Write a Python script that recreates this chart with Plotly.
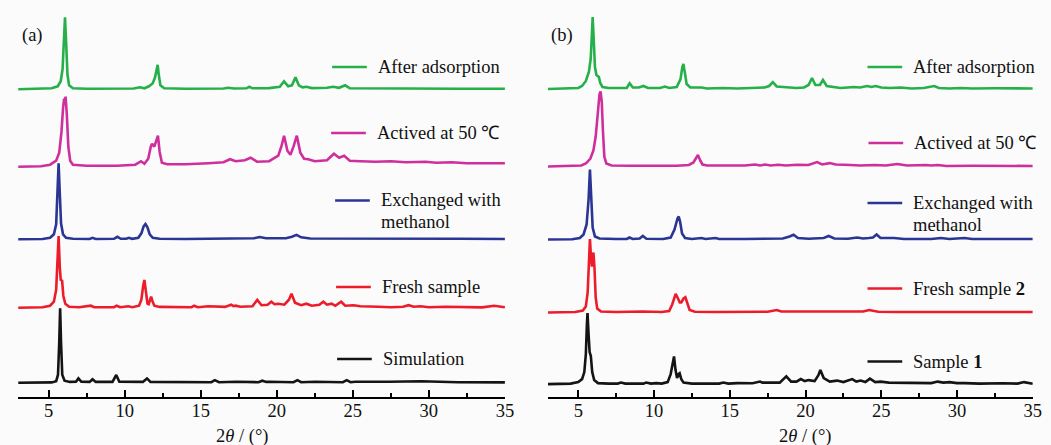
import plotly.graph_objects as go

# ---------------------------------------------------------------
# PXRD patterns, 2θ (°) vs. relative intensity (a.u.), traced as
# (2θ, intensity) vertices.  Panel (a) and panel (b).
# ---------------------------------------------------------------

# panel (a)
a_after = [(3.0, 0), (4.5, 0.3), (5.2, 1), (5.6, 3), (5.8, 8), (5.92, 20), (6.0, 45), (6.08, 72),
           (6.16, 45), (6.24, 15), (6.35, 4), (6.6, 1), (7.5, 0.5), (9.0, 0.3), (10.6, 0.8), (11.0, 2),
           (11.3, 1), (11.6, 3), (11.85, 6), (12.0, 12), (12.1, 22), (12.17, 24.5), (12.25, 14),
           (12.35, 4), (12.6, 1), (14.0, 0.5), (16.5, 0.8), (16.8, 1.5), (17.2, 0.8), (18.0, 1),
           (18.2, 2.5), (18.4, 1), (19.5, 1.2), (20.2, 2.5), (20.48, 8), (20.75, 3), (21.0, 4),
           (21.23, 12), (21.45, 4), (21.7, 2), (21.95, 2.5), (22.3, 1.2), (23.3, 1.5), (23.7, 2.5),
           (24.1, 1.5), (24.5, 4), (24.8, 1), (26.0, 0.8), (28.0, 0.6), (30.0, 0.8), (32.0, 0.5),
           (35.0, 0.5)]

a_activated = [(3.0, 0), (4.5, 0.5), (5.1, 2), (5.5, 6), (5.7, 14), (5.85, 35), (5.95, 58), (6.02, 68),
               (6.07, 66), (6.12, 70), (6.2, 52), (6.3, 20), (6.42, 6), (6.6, 2), (7.5, 1), (9.5, 1),
               (10.7, 2), (11.08, 5.5), (11.3, 3), (11.55, 8), (11.72, 20), (11.8, 23), (11.95, 20),
               (12.1, 28), (12.19, 31), (12.3, 15), (12.45, 4), (12.8, 2.5), (14.0, 2.5), (15.5, 3.5),
               (16.5, 4.5), (16.93, 7.5), (17.3, 5.5), (17.9, 6.5), (18.28, 9), (18.7, 5), (19.5, 5.5),
               (20.1, 11), (20.3, 20), (20.48, 31), (20.7, 16), (20.9, 12), (21.1, 20), (21.32, 31),
               (21.55, 14), (21.8, 8), (22.07, 7.5), (22.5, 5.5), (23.3, 6.5), (23.76, 13), (24.1, 9),
               (24.43, 11), (24.8, 6), (25.5, 5.5), (26.5, 5), (27.5, 5.5), (28.5, 4.5), (29.77, 5),
               (30.5, 4), (31.5, 4.5), (32.5, 3.5), (34.0, 3.5), (35.0, 3.5)]

a_methanol = [(3.0, 0), (4.6, 0.3), (5.1, 1.5), (5.35, 5), (5.5, 15), (5.58, 40), (5.66, 76), (5.74, 45),
              (5.82, 16), (5.95, 5), (6.15, 1.5), (6.6, 0.5), (7.7, 0.3), (7.89, 1.5), (8.1, 0.3),
              (9.3, 0.5), (9.52, 2.5), (9.75, 0.5), (10.1, 0.5), (10.28, 1.5), (10.5, 0.5), (10.9, 1.5),
              (11.1, 6), (11.25, 13), (11.37, 15.3), (11.5, 12), (11.65, 5), (11.85, 1.5), (12.3, 0.5),
              (14.0, 0.3), (16.0, 0.5), (18.5, 1), (18.87, 2.3), (19.3, 1), (20.6, 1), (21.0, 2.5),
              (21.3, 4.4), (21.6, 2), (22.2, 0.8), (24.0, 0.8), (25.5, 0.5), (27.0, 0.8), (28.5, 0.5),
              (30.5, 1.2), (32.0, 0.5), (35.0, 0.3)]

a_fresh = [(3.0, 0), (4.6, 0.5), (5.1, 2), (5.35, 6), (5.5, 18), (5.58, 45), (5.66, 71.7), (5.74, 40),
           (5.8, 28), (5.89, 27), (5.97, 12), (6.1, 4), (6.35, 1), (7.0, 0.5), (7.78, 2), (8.0, 0.5),
           (9.3, 0.5), (9.48, 2), (9.7, 0.5), (10.24, 1.5), (10.5, 0.5), (10.95, 2), (11.1, 8),
           (11.22, 22), (11.3, 27.7), (11.4, 16), (11.5, 4), (11.58, 3.5), (11.68, 9), (11.74, 11),
           (11.82, 7), (11.95, 2), (12.3, 0.8), (14.4, 0.5), (14.57, 2), (14.8, 0.5), (15.5, 1.5),
           (16.6, 0.8), (17.0, 3), (17.15, 1.5), (17.3, 2), (17.6, 1), (18.4, 1.5), (18.72, 7.8),
           (19.0, 2.5), (19.4, 3), (19.64, 6), (19.85, 3.5), (20.09, 4), (20.5, 3), (20.8, 8),
           (20.97, 13.9), (21.2, 5), (21.6, 2.5), (21.95, 4), (22.3, 2), (22.8, 3), (23.06, 6),
           (23.3, 3), (23.6, 4), (23.85, 2), (24.23, 6), (24.5, 2), (25.04, 2.5), (25.5, 1.5),
           (26.03, 1.5), (26.4, 0.8), (26.7, 1), (27.5, 0.5), (28.3, 1), (28.67, 2.5), (29.0, 1),
           (29.45, 1.5), (30.0, 0.5), (31.1, 1), (32.0, 0.5), (33.5, 0.3), (34.29, 2), (35.0, 0.5)]

a_simulated = [(3.0, 0), (5.2, 0.3), (5.5, 1.5), (5.62, 8), (5.7, 40), (5.76, 74.4), (5.82, 40), (5.9, 8),
               (6.05, 2), (6.4, 0.8), (6.8, 1), (6.96, 4.3), (7.15, 1), (7.7, 0.8), (7.89, 3.5), (8.1, 0.8),
               (9.2, 0.8), (9.45, 7.7), (9.65, 1), (10.28, 1), (11.2, 0.8), (11.47, 4.3), (11.7, 0.8),
               (15.7, 0.5), (15.93, 2.5), (16.2, 0.5), (17.34, 1), (18.8, 0.5), (19.05, 2), (19.3, 0.8),
               (19.54, 1), (21.1, 0.5), (21.36, 2.5), (21.6, 0.5), (22.51, 1), (24.35, 0.5), (24.6, 2.5),
               (24.85, 0.5), (25.15, 1), (27.4, 1), (29.5, 1.5), (31.9, 0.5), (35.0, 0.3)]

# panel (b)
b_after = [(3.0, 0), (4.5, 0.5), (5.0, 1), (5.25, 3), (5.5, 8), (5.7, 17), (5.82, 30), (5.9, 55),
           (5.95, 72), (6.02, 50), (6.1, 22), (6.2, 14), (6.3, 12.5), (6.36, 12), (6.45, 6), (6.6, 2),
           (7.0, 1), (8.2, 1), (8.39, 5.7), (8.6, 1.5), (9.0, 1.5), (9.3, 3), (9.6, 1), (10.4, 1),
           (10.72, 2.5), (11.0, 1), (11.5, 2), (11.75, 10), (11.87, 22), (11.94, 25), (12.05, 15),
           (12.15, 5), (12.4, 1.5), (13.14, 1.5), (13.5, 0.5), (14.54, 1), (15.5, 0.5), (16.2, 1),
           (16.8, 1.5), (17.3, 1.5), (17.6, 3), (17.84, 6.8), (18.1, 2.5), (18.77, 1.5), (19.4, 1),
           (19.9, 1.5), (20.2, 4), (20.43, 11), (20.65, 4), (20.95, 4), (21.15, 9), (21.4, 3),
           (21.87, 2), (22.3, 1), (22.8, 1.5), (23.18, 2), (23.6, 1.5), (24.07, 3), (24.35, 2),
           (24.62, 3), (25.0, 1.5), (25.6, 1), (26.29, 1.5), (27.0, 0.5), (27.8, 1), (28.5, 3),
           (28.8, 1), (29.5, 0.5), (30.25, 1), (31.0, 0.5), (32.5, 0.8), (34.0, 0.3), (35.0, 0.5)]

b_activated = [(3.0, 0), (4.5, 0.5), (5.2, 1), (5.5, 3), (5.8, 8), (6.0, 16), (6.15, 30), (6.3, 55),
               (6.4, 72), (6.47, 75), (6.55, 65), (6.63, 35), (6.72, 10), (6.85, 3), (7.2, 1), (8.5, 0.8),
               (10.0, 0.5), (11.5, 0.8), (12.3, 1.5), (12.6, 4), (12.8, 9), (12.9, 11.5), (13.05, 6),
               (13.2, 2), (13.5, 1), (14.5, 0.8), (16.0, 1), (16.67, 2), (17.0, 1), (17.33, 2), (17.7, 1),
               (18.2, 1.8), (18.7, 1), (19.43, 1.8), (20.2, 1.5), (20.76, 4.4), (21.1, 2), (21.58, 3.4),
               (22.0, 2), (22.97, 1.5), (23.6, 1), (24.6, 1.5), (25.3, 1), (26.05, 2.5), (26.7, 1),
               (27.95, 1.5), (28.3, 1), (28.72, 1.5), (29.3, 0.5), (31.0, 0.8), (33.0, 0.3), (35.0, 0.5)]

b_methanol = [(3.0, 0), (4.6, 0.3), (5.1, 1.5), (5.35, 5), (5.55, 15), (5.68, 40), (5.77, 70), (5.86, 40),
              (5.95, 12), (6.1, 3), (6.4, 1), (7.5, 0.5), (8.2, 0.5), (8.38, 2), (8.6, 0.5), (9.05, 1),
              (9.26, 3.5), (9.5, 0.8), (10.6, 0.5), (11.1, 2), (11.35, 10), (11.55, 21), (11.63, 23),
              (11.72, 18), (11.85, 6), (12.05, 1.5), (12.5, 0.5), (13.13, 1.5), (13.4, 0.5), (14.06, 1.5),
              (14.3, 0.5), (16.0, 0.5), (17.5, 0.5), (18.5, 1), (18.95, 3), (19.21, 4.7), (19.5, 1.5),
              (20.2, 0.8), (21.2, 1.5), (21.53, 3.5), (21.9, 1), (22.8, 0.8), (23.41, 2), (23.8, 1),
              (24.18, 1.5), (24.45, 2), (24.69, 5), (24.95, 1.5), (25.85, 1.5), (26.5, 0.5), (28.3, 0.5),
              (28.94, 1.5), (29.5, 0.5), (30.49, 1.5), (31.0, 0.5), (33.0, 0.3), (35.0, 0.5)]

b_fresh2 = [(3.0, 0), (4.8, 0.5), (5.3, 2), (5.5, 6), (5.62, 20), (5.7, 50), (5.77, 73.5), (5.84, 55),
            (5.9, 46), (5.96, 58), (6.0, 60), (6.07, 45), (6.15, 15), (6.25, 4), (6.5, 1), (7.5, 0.5),
            (9.24, 1), (10.5, 0.5), (11.0, 1.5), (11.2, 8), (11.35, 16), (11.43, 18.6), (11.55, 15),
            (11.7, 10), (11.8, 10), (11.95, 14), (12.07, 15.2), (12.2, 9), (12.35, 2.5), (12.7, 0.8),
            (14.0, 0.5), (17.5, 0.8), (17.9, 2), (18.1, 2.5), (18.4, 1), (20.0, 0.8), (21.1, 1),
            (22.0, 0.6), (23.8, 1), (24.2, 2.5), (24.5, 2), (24.8, 0.8), (26.0, 0.5), (28.0, 0.6),
            (30.0, 0.5), (32.0, 0.6), (35.0, 0.5)]

b_sample1 = [(3.0, 0), (4.5, 0.5), (5.0, 2), (5.25, 5), (5.4, 12), (5.5, 30), (5.57, 60), (5.61, 71),
             (5.68, 50), (5.75, 32), (5.83, 28), (5.92, 12), (6.05, 4), (6.3, 1), (7.0, 0.5), (7.6, 0.5),
             (7.82, 1.5), (8.1, 0.5), (9.3, 0.5), (9.48, 1.5), (9.8, 0.5), (10.15, 1), (10.5, 0.5),
             (10.9, 2), (11.1, 10), (11.25, 25), (11.32, 27.7), (11.42, 14), (11.52, 6), (11.62, 10),
             (11.69, 10.8), (11.8, 5), (11.95, 1.5), (12.5, 0.5), (14.3, 0.5), (14.57, 1.5), (14.9, 0.5),
             (15.52, 1), (16.5, 0.8), (17.0, 2.5), (17.15, 1.5), (17.33, 1.5), (18.3, 1.5), (18.73, 7.8),
             (19.05, 2.5), (19.4, 2.5), (19.69, 5), (19.95, 3), (20.2, 4), (20.6, 3), (20.85, 9),
             (20.98, 14.2), (21.2, 6), (21.6, 2.5), (22.08, 3.5), (22.5, 2), (23.08, 5), (23.35, 2.5),
             (23.64, 3.5), (23.95, 2), (24.25, 5.5), (24.6, 2), (24.96, 2.5), (25.5, 1.5), (26.05, 1.5),
             (26.4, 1), (26.7, 1.5), (27.5, 0.8), (28.3, 1), (28.72, 2.5), (29.1, 1.5), (29.5, 2),
             (30.0, 1), (30.5, 1), (31.5, 0.5), (33.0, 0.8), (34.0, 0.5), (34.42, 2), (34.8, 0.5),
             (35.0, 0.3)]

# x-axis ticks
tick_values = [5, 10, 15, 20, 25, 30, 35]
tick_labels = ["5", "10", "15", "20", "25", "30", "35"]

# ---------------------------------------------------------------
# styling / stacking
# ---------------------------------------------------------------
GREEN = "#25b04a"
MAGENTA = "#cf2f9c"
BLUE = "#2b3594"
RED = "#ec1c2a"
BLACK = "#141414"
FONT = "Liberation Serif"
FONT_SIZE = 18.5
BG = "#fbfbfb"
W, H = 1051, 445
BOTTOM = 48            # bottom margin; plot area spans pixel rows 0 .. H - BOTTOM
PLOT_H = H - BOTTOM

# (pattern, colour, vertical offset, legend lines, legend y (px), legend x0 (px))
panel_a = [
    (a_after, GREEN, 307.7, ["After adsorption"], 67, 335),
    (a_activated, MAGENTA, 230.3, ["Actived at 50 ℃"], 133, 334),
    (a_methanol, BLUE, 157.7, ["Exchanged with", "methanol"], 200.5, 338),
    (a_fresh, RED, 89.3, ["Fresh sample"], 287, 339),
    (a_simulated, BLACK, 14.3, ["Simulation"], 359, 340),
]
panel_b = [
    (b_after, GREEN, 308.0, ["After adsorption"], 67, 875),
    (b_activated, MAGENTA, 230.5, ["Actived at 50 ℃"], 143, 876),
    (b_methanol, BLUE, 157.5, ["Exchanged with", "methanol"], 203, 875),
    (b_fresh2, RED, 84.5, ["Fresh sample <b>2</b>"], 288.5, 875),
    (b_sample1, BLACK, 12.9, ["Sample <b>1</b>"], 361.5, 875),
]

fig = go.Figure()
shapes, annotations = [], []


def px(x):
    return x / W


def py(y):
    # paper coordinates are measured over the plot area
    return (PLOT_H - y) / PLOT_H


for panel, xa, ya in ((panel_a, "x", "y"), (panel_b, "x2", "y2")):
    for pattern, colour, offset, label_lines, ly, lx0 in panel:
        xs = [p[0] for p in pattern]
        ys = [p[1] + offset for p in pattern]
        fig.add_trace(go.Scatter(x=xs, y=ys, mode="lines", xaxis=xa, yaxis=ya,
                                 line=dict(color=colour, width=2.6), showlegend=False,
                                 hoverinfo="skip"))
        shapes.append(dict(type="line", xref="paper", yref="paper",
                           x0=px(lx0), x1=px(lx0 + 35), y0=py(ly), y1=py(ly),
                           line=dict(color=colour, width=2.6)))
        for i, txt in enumerate(label_lines):
            annotations.append(dict(text=txt, xref="paper", yref="paper",
                                    x=px(lx0 + 44), y=py(ly + 21.5 * i),
                                    xanchor="left", yanchor="middle", showarrow=False,
                                    font=dict(family=FONT, size=FONT_SIZE, color="#111")))

# panel tags and axis titles
for tag, xc in (("(a)", 33), ("(b)", 567)):
    annotations.append(dict(text=tag, xref="paper", yref="paper", x=px(xc), y=py(36),
                            xanchor="center", yanchor="middle", showarrow=False,
                            font=dict(family=FONT, size=FONT_SIZE, color="#111")))
for xc in (244, 812):
    annotations.append(dict(text="2<i>θ</i> / (°)", xref="paper", yref="paper",
                            x=px(xc), y=py(436), xanchor="center", yanchor="middle",
                            showarrow=False, font=dict(family=FONT, size=FONT_SIZE, color="#111")))

xaxis_style = dict(range=[3, 35], showline=True, linecolor="black", linewidth=2,
                   showgrid=False, zeroline=False, ticks="inside", ticklen=7, tickwidth=2,
                   tickcolor="black", tickvals=tick_values, ticktext=tick_labels,
                   tickfont=dict(family=FONT, size=FONT_SIZE, color="#111"),
                   ticklabelstandoff=-4,
                   minor=dict(dtick=2.5, tick0=5, ticks="inside", ticklen=4, tickwidth=2,
                              tickcolor="black", showgrid=False),
                   fixedrange=True)
yaxis_style = dict(range=[0, PLOT_H], visible=False, showgrid=False, zeroline=False, fixedrange=True)

fig.update_layout(
    width=W, height=H,
    margin=dict(l=0, r=0, t=0, b=BOTTOM),
    paper_bgcolor=BG, plot_bgcolor=BG,
    font=dict(family=FONT, size=FONT_SIZE, color="#111"),
    xaxis=dict(domain=[18.3 / W, 509.3 / W], anchor="y", **xaxis_style),
    xaxis2=dict(domain=[552.7 / W, 1041.7 / W], anchor="y2", **xaxis_style),
    yaxis=dict(domain=[0, 1], anchor="x", **yaxis_style),
    yaxis2=dict(domain=[0, 1], anchor="x2", **yaxis_style),
    shapes=shapes,
    annotations=annotations,
)

fig.write_html("out.html")
